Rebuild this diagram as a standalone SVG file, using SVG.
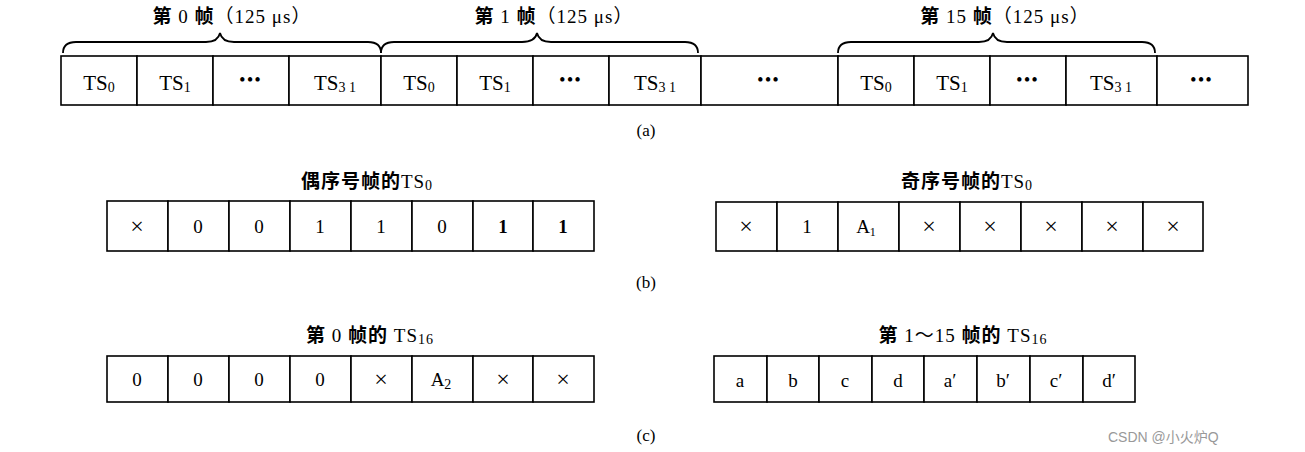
<svg xmlns="http://www.w3.org/2000/svg" width="1305" height="452" viewBox="0 0 1305 452">
<style>
.c{fill:#fff;stroke:#000;stroke-width:1.6}
.t{font-family:"Liberation Serif","Noto Sans CJK SC",serif;fill:#000;text-anchor:middle}
.ts{font-size:21px}
.v{font-size:19px}
.x{font-size:24px}
.h{font-size:19px;letter-spacing:1px}
.b{font-weight:bold}
.lab{font-size:17px}
.dots{font-family:"Liberation Serif",serif;font-size:16px;letter-spacing:2px;text-anchor:middle;font-weight:bold}
.br{fill:none;stroke:#000;stroke-width:1.8}
.wm{font-family:"Liberation Sans","Noto Sans CJK SC",sans-serif;font-size:14px;fill:#999}
</style>
<rect width="1305" height="452" fill="#fff"/>
<g id="braces">
<path class="br" d="M63,53 Q63,42 76,42 L206,42 Q218,42 220,33 Q222,42 234,42 L368,42 Q381,42 381,53"/>
<path class="br" d="M381,53 Q381,42 394,42 L522,42 Q535,42 537,33 Q539,42 551,42 L685,42 Q698,42 698,53"/>
<path class="br" d="M838,53 Q838,42 851,42 L979,42 Q991,42 993,33 Q995,42 1007,42 L1142,42 Q1155,42 1155,53"/>
</g>
<g id="frame-labels">
<text class="t h" x="232" y="23"><tspan class="b">第</tspan> 0 <tspan class="b">帧</tspan>（125 μs）</text>
<text class="t h" x="554" y="23"><tspan class="b">第</tspan> 1 <tspan class="b">帧</tspan>（125 μs）</text>
<text class="t h" x="1005" y="23"><tspan class="b">第</tspan> 15 <tspan class="b">帧</tspan>（125 μs）</text>
</g>
<g id="row-a">
<rect class="c" x="61" y="56" width="76" height="49"/>
<rect class="c" x="137" y="56" width="76" height="49"/>
<rect class="c" x="213" y="56" width="76" height="49"/>
<rect class="c" x="289" y="56" width="92" height="49"/>
<rect class="c" x="381" y="56" width="76" height="49"/>
<rect class="c" x="457" y="56" width="76" height="49"/>
<rect class="c" x="533" y="56" width="76" height="49"/>
<rect class="c" x="609" y="56" width="92" height="49"/>
<rect class="c" x="701" y="56" width="137" height="49"/>
<rect class="c" x="838" y="56" width="76" height="49"/>
<rect class="c" x="914" y="56" width="76" height="49"/>
<rect class="c" x="990" y="56" width="76" height="49"/>
<rect class="c" x="1066" y="56" width="91" height="49"/>
<rect class="c" x="1157" y="56" width="91" height="49"/>
<text class="t ts" x="99" y="90">TS<tspan font-size="14" dy="2">0</tspan></text>
<text class="t ts" x="175" y="90">TS<tspan font-size="14" dy="2">1</tspan></text>
<text class="dots" x="251" y="85">•••</text>
<text class="t ts" x="335" y="90">TS<tspan font-size="14" dy="2">3 1</tspan></text>
<text class="t ts" x="419" y="90">TS<tspan font-size="14" dy="2">0</tspan></text>
<text class="t ts" x="495" y="90">TS<tspan font-size="14" dy="2">1</tspan></text>
<text class="dots" x="571" y="85">•••</text>
<text class="t ts" x="655" y="90">TS<tspan font-size="14" dy="2">3 1</tspan></text>
<text class="dots" x="769" y="85">•••</text>
<text class="t ts" x="876" y="90">TS<tspan font-size="14" dy="2">0</tspan></text>
<text class="t ts" x="952" y="90">TS<tspan font-size="14" dy="2">1</tspan></text>
<text class="dots" x="1028" y="85">•••</text>
<text class="t ts" x="1111" y="90">TS<tspan font-size="14" dy="2">3 1</tspan></text>
<text class="dots" x="1202" y="85">•••</text>
<text class="t lab" x="646" y="136">(a)</text>
</g>
<g id="row-b-left">
<text class="t h" x="367" y="188"><tspan class="b">偶序号帧的</tspan>TS<tspan font-size="14" dy="2">0</tspan></text>
<rect class="c" x="107" y="201" width="61" height="50"/>
<rect class="c" x="168" y="201" width="61" height="50"/>
<rect class="c" x="229" y="201" width="61" height="50"/>
<rect class="c" x="290" y="201" width="61" height="50"/>
<rect class="c" x="351" y="201" width="61" height="50"/>
<rect class="c" x="412" y="201" width="61" height="50"/>
<rect class="c" x="473" y="201" width="60" height="50"/>
<rect class="c" x="533" y="201" width="61" height="50"/>
<text class="t x" x="137" y="234">×</text>
<text class="t v" x="198" y="233">0</text>
<text class="t v" x="259" y="233">0</text>
<text class="t v" x="320" y="233">1</text>
<text class="t v" x="381" y="233">1</text>
<text class="t v" x="442" y="233">0</text>
<text class="t v b" x="503" y="233">1</text>
<text class="t v b" x="563" y="233">1</text>
</g>
<g id="row-b-right">
<text class="t h" x="967" y="188"><tspan class="b">奇序号帧的</tspan>TS<tspan font-size="14" dy="2">0</tspan></text>
<rect class="c" x="716" y="202" width="61" height="49"/>
<rect class="c" x="777" y="202" width="61" height="49"/>
<rect class="c" x="838" y="202" width="61" height="49"/>
<rect class="c" x="899" y="202" width="61" height="49"/>
<rect class="c" x="960" y="202" width="61" height="49"/>
<rect class="c" x="1021" y="202" width="61" height="49"/>
<rect class="c" x="1082" y="202" width="61" height="49"/>
<rect class="c" x="1143" y="202" width="60" height="49"/>
<text class="t x" x="746" y="234">×</text>
<text class="t v" x="807" y="233">1</text>
<text class="t v" x="866" y="233" font-family="Liberation Sans,sans-serif" font-size="17">A<tspan font-size="12" dy="3">1</tspan></text>
<text class="t x" x="929" y="234">×</text>
<text class="t x" x="990" y="234">×</text>
<text class="t x" x="1051" y="234">×</text>
<text class="t x" x="1112" y="234">×</text>
<text class="t x" x="1173" y="234">×</text>
<text class="t lab" x="646" y="288">(b)</text>
</g>
<g id="row-c-left">
<text class="t h" x="370" y="342"><tspan class="b">第</tspan> 0 <tspan class="b">帧的</tspan> TS<tspan font-size="14" dy="2">16</tspan></text>
<rect class="c" x="107" y="356" width="61" height="46"/>
<rect class="c" x="168" y="356" width="61" height="46"/>
<rect class="c" x="229" y="356" width="61" height="46"/>
<rect class="c" x="290" y="356" width="61" height="46"/>
<rect class="c" x="351" y="356" width="61" height="46"/>
<rect class="c" x="412" y="356" width="61" height="46"/>
<rect class="c" x="473" y="356" width="60" height="46"/>
<rect class="c" x="533" y="356" width="61" height="46"/>
<text class="t v" x="137" y="386">0</text>
<text class="t v" x="198" y="386">0</text>
<text class="t v" x="259" y="386">0</text>
<text class="t v" x="320" y="386">0</text>
<text class="t x" x="381" y="387">×</text>
<text class="t v" x="441" y="386" font-family="Liberation Sans,sans-serif" font-size="17">A<tspan font-size="14" dy="3">2</tspan></text>
<text class="t x" x="503" y="387">×</text>
<text class="t x" x="563" y="387">×</text>
</g>
<g id="row-c-right">
<text class="t h" x="963" y="342"><tspan class="b">第</tspan> 1～15 <tspan class="b">帧的</tspan> TS<tspan font-size="14" dy="2">16</tspan></text>
<rect class="c" x="714" y="356" width="53" height="46"/>
<rect class="c" x="767" y="356" width="52" height="46"/>
<rect class="c" x="819" y="356" width="53" height="46"/>
<rect class="c" x="872" y="356" width="52" height="46"/>
<rect class="c" x="924" y="356" width="53" height="46"/>
<rect class="c" x="977" y="356" width="53" height="46"/>
<rect class="c" x="1030" y="356" width="53" height="46"/>
<rect class="c" x="1083" y="356" width="52" height="46"/>
<text class="t v" x="740" y="387">a</text>
<text class="t v" x="793" y="387">b</text>
<text class="t v" x="845" y="387">c</text>
<text class="t v" x="898" y="387">d</text>
<text class="t v" x="950" y="387">a′</text>
<text class="t v" x="1003" y="387">b′</text>
<text class="t v" x="1056" y="387">c′</text>
<text class="t v" x="1109" y="387">d′</text>
<text class="t lab" x="646" y="441">(c)</text>
</g>
<text class="wm" x="1108" y="442">CSDN @小火炉Q</text>
</svg>
